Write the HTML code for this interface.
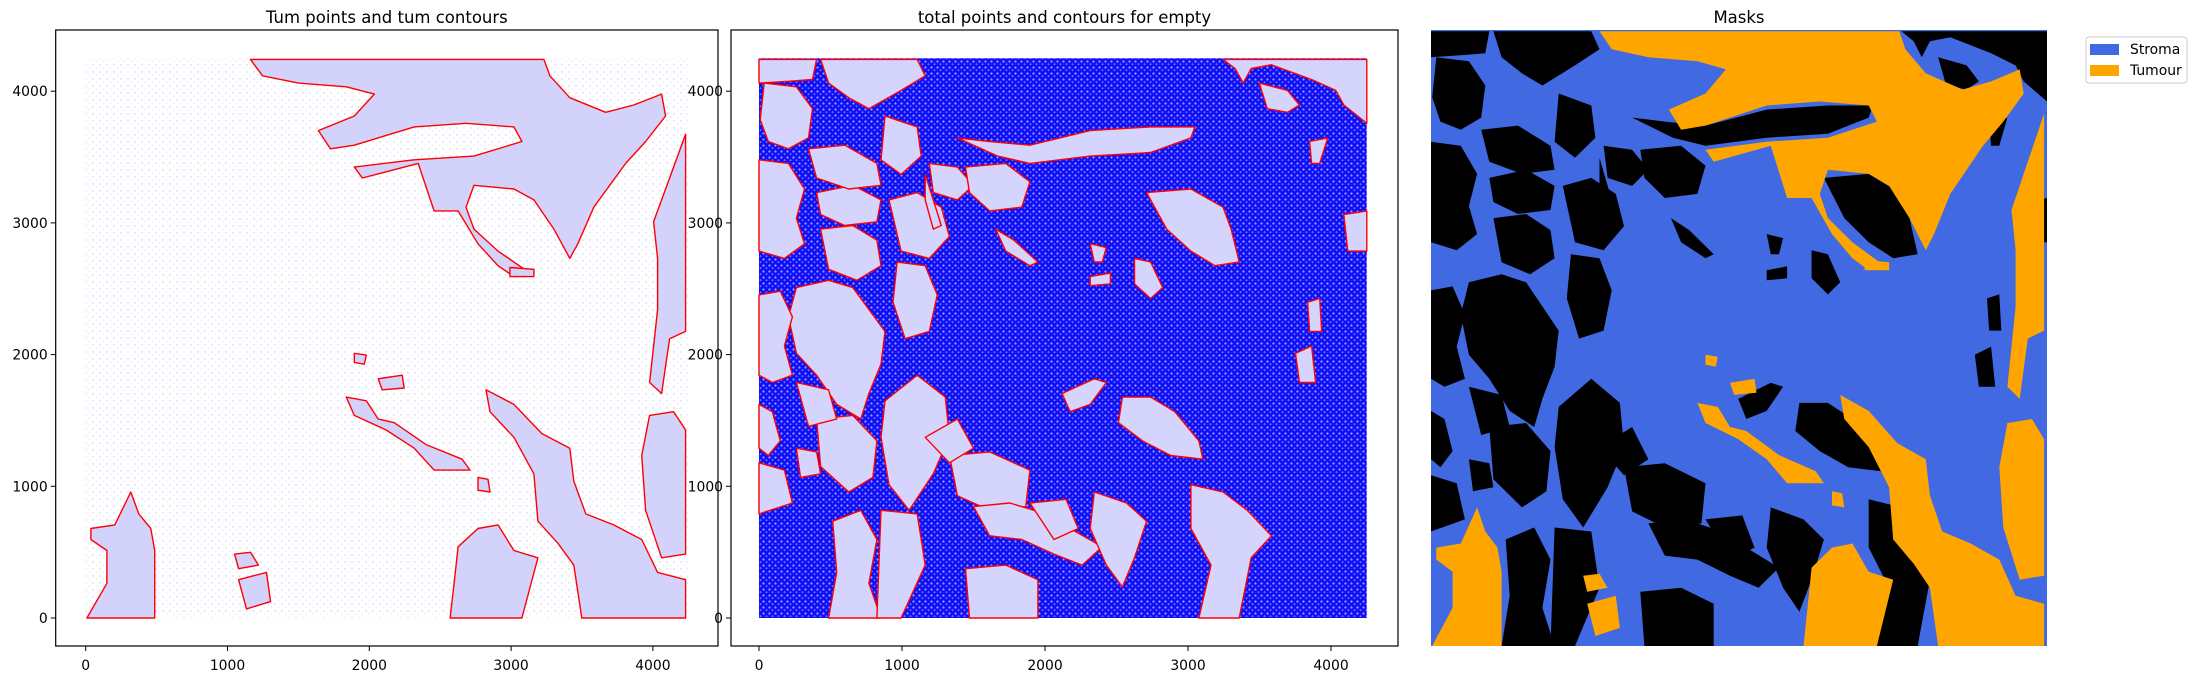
<!DOCTYPE html>
<html><head><meta charset="utf-8">
<style>
html,body{margin:0;padding:0;background:#fff;}
body{width:2196px;height:680px;overflow:hidden;font-family:"DejaVu Sans","Liberation Sans",sans-serif;}
svg text{font-family:"DejaVu Sans","Liberation Sans",sans-serif;}
</style></head>
<body>
<svg id="fig" width="2196" height="680" viewBox="0 0 2196 680" xmlns="http://www.w3.org/2000/svg">
<defs>
<pattern id="speck" width="6" height="6" patternUnits="userSpaceOnUse">
<rect width="6" height="6" fill="#1010f8"/>
<circle cx="1.5" cy="1.5" r="1.1" fill="#ffffff" opacity="0.6"/>
<circle cx="4.5" cy="4.2" r="0.9" fill="#ffffff" opacity="0.45"/>
</pattern>
<pattern id="faint" width="7" height="7" patternUnits="userSpaceOnUse">
<rect width="7" height="7" fill="#ffffff"/>
<circle cx="2" cy="2" r="1" fill="#8888ff" opacity="0.25"/>
<circle cx="5.5" cy="5" r="0.8" fill="#8888ff" opacity="0.2"/>
</pattern>
</defs>
</svg>
<script>
// ---- data (mask grid: cols 27..1537, rows 12..1545) ----
const xTicks = [0, 1000, 2000, 3000, 4000];
const yTicks = [0, 1000, 2000, 3000, 4000];
const legendLabels = ['Stroma', 'Tumour'];
const tumourRegions = [
 [[440,15],[1175,15],[1190,60],[1240,120],[1330,160],[1400,140],[1470,110],[1480,170],[1430,240],[1380,300],[1300,420],[1260,520],[1240,560],[1200,480],[1150,400],[1100,370],[1000,360],[980,420],[1000,480],[1060,540],[1140,600],[1100,610],[1060,580],[1010,520],[960,430],[900,430],[860,300],[720,340],[700,310],[850,290],[1000,280],[1120,240],[1100,200],[980,190],[850,200],[700,250],[640,260],[610,210],[700,170],[750,110],[680,90],[560,80],[470,60]],
 [[1530,220],[1480,370],[1450,460],[1460,560],[1460,700],[1440,900],[1470,930],[1490,780],[1530,760]],
 [[1440,990],[1500,980],[1530,1030],[1530,1370],[1470,1380],[1430,1250],[1420,1100]],
 [[1030,920],[1100,960],[1170,1040],[1240,1080],[1250,1170],[1280,1260],[1350,1290],[1420,1330],[1460,1420],[1530,1440],[1530,1545],[1270,1545],[1250,1400],[1210,1340],[1160,1280],[1150,1150],[1100,1050],[1040,980]],
 [[960,1350],[1010,1300],[1060,1290],[1100,1360],[1160,1380],[1120,1545],[940,1545],[950,1450]],
 [[680,940],[730,950],[760,1000],[800,1010],[880,1070],[970,1110],[990,1140],[900,1140],[850,1080],[780,1030],[700,990]],
 [[40,1300],[100,1290],[140,1200],[160,1260],[190,1300],[200,1360],[200,1545],[30,1545],[80,1450],[80,1360],[40,1330]],
 [[700,820],[730,825],[725,850],[700,845]],
 [[760,890],[820,880],[825,915],[770,920]],
 [[1010,1160],[1035,1165],[1040,1200],[1010,1195]],
 [[1090,585],[1150,590],[1150,610],[1090,610]],
 [[400,1370],[440,1365],[460,1400],[410,1410]],
 [[410,1440],[480,1420],[490,1500],[430,1520]]
];
const emptyRegions = [
 [[40,80],[120,90],[160,150],[150,230],[100,260],[50,240],[30,180]],
 [[180,15],[420,15],[440,60],[380,100],[300,150],[250,120],[200,80]],
 [[340,170],[420,200],[430,280],[380,330],[330,290]],
 [[27,290],[100,300],[140,370],[120,450],[140,520],[90,560],[27,540]],
 [[170,380],[260,360],[330,400],[320,460],[240,470],[180,440]],
 [[180,480],[260,470],[320,510],[330,580],[270,620],[200,590]],
 [[120,640],[200,620],[260,640],[300,700],[340,760],[330,850],[300,930],[280,1000],[220,960],[170,880],[120,820],[100,720]],
 [[27,660],[80,650],[110,720],[90,800],[110,880],[60,900],[27,880]],
 [[350,400],[420,380],[480,420],[500,500],[450,560],[380,540]],
 [[370,570],[440,580],[470,660],[450,760],[390,780],[360,680]],
 [[450,300],[520,310],[560,360],[520,400],[460,380]],
 [[520,230],[620,280],[700,300],[850,280],[1000,270],[1100,230],[1110,200],[1000,200],[850,210],[700,250],[600,240]],
 [[540,310],[640,300],[700,350],[680,420],[600,430],[550,380]],
 [[340,950],[420,880],[490,940],[500,1050],[460,1150],[400,1250],[350,1180],[330,1050]],
 [[170,1000],[260,990],[320,1060],[310,1160],[250,1200],[180,1130]],
 [[210,1280],[280,1250],[320,1330],[300,1450],[330,1545],[200,1545],[220,1420]],
 [[500,1100],[600,1090],[700,1140],[690,1240],[600,1250],[520,1210]],
 [[560,1240],[650,1230],[740,1260],[800,1300],[880,1350],[830,1400],[760,1370],[680,1330],[600,1320]],
 [[540,1410],[640,1400],[720,1440],[720,1545],[550,1545]],
 [[860,1200],[940,1230],[990,1280],[960,1380],[930,1460],[890,1400],[850,1300]],
 [[1100,1180],[1180,1200],[1240,1250],[1300,1320],[1250,1380],[1220,1545],[1120,1545],[1150,1400],[1100,1300]],
 [[930,940],[1000,940],[1060,980],[1120,1060],[1130,1110],[1050,1100],[980,1060],[920,1010]],
 [[780,930],[860,890],[890,900],[850,960],[800,980]],
 [[1180,15],[1537,15],[1537,190],[1480,140],[1460,100],[1400,70],[1300,30],[1250,40],[1230,80],[1210,40]],
 [[1270,80],[1340,100],[1370,140],[1340,160],[1290,150]],
 [[990,380],[1100,370],[1180,420],[1200,480],[1220,570],[1160,580],[1100,540],[1040,480]],
 [[1395,240],[1440,230],[1420,300],[1400,300]],
 [[1360,820],[1400,800],[1410,900],[1370,900]],
 [[1390,680],[1420,670],[1425,760],[1395,760]],
 [[1480,440],[1537,430],[1537,540],[1490,540]],
 [[615,480],[660,510],[720,570],[700,580],[640,540]],
 [[850,520],[890,530],[880,570],[860,570]],
 [[960,560],[1000,570],[1030,640],[1000,670],[960,630]],
 [[27,960],[60,980],[80,1060],[50,1100],[27,1080]],
 [[120,1080],[170,1090],[180,1150],[130,1160]],
 [[440,330],[480,470],[460,480],[440,400]],
 [[850,610],[900,600],[900,630],[850,635]],
 [[27,15],[170,15],[160,70],[100,75],[27,80]],
 [[150,260],[240,250],[320,300],[330,360],[250,370],[170,340]],
 [[330,1250],[420,1260],[440,1400],[380,1545],[320,1545]],
 [[700,1230],[790,1220],[820,1300],[760,1330]],
 [[440,1050],[520,1000],[560,1080],[500,1120]],
 [[120,900],[200,920],[220,1000],[150,1020]],
 [[27,1120],[90,1140],[110,1230],[27,1260]]
];
const COL0=27, COL1=1537, ROW0=12, ROW1=1545, DATAMAX=4250;

// ---- scales ----
function dataX(c){return (c-COL0)/(COL1-COL0)*DATAMAX;}
function dataY(r){return (ROW1-r)/(ROW1-ROW0)*DATAMAX;}
const P1={x0:85.7,y0:618,sx:0.1418,sy:0.1317};
const P2={x0:759,y0:618,sx:0.1430,sy:0.1317};
function px(P,d){return P.x0+d*P.sx;}
function py(P,d){return P.y0-d*P.sy;}
function maskX(c){return 1431+(c-COL0)/(COL1-COL0)*616;}
function maskY(r){return 30+(r-ROW0)/(ROW1-ROW0)*616;}

const NS='http://www.w3.org/2000/svg';
const fig=document.getElementById('fig');
function mk(tag,attrs,parent){const e=document.createElementNS(NS,tag);for(const k in attrs)e.setAttribute(k,attrs[k]);(parent||fig).appendChild(e);return e;}
function polyPts(poly,fx,fy){return poly.map(p=>fx(p[0]).toFixed(1)+','+fy(p[1]).toFixed(1)).join(' ');}

function axesFrame(left,right,P,title,name){
  const g=mk('g',{});
  
  
  const t=mk('text',{x:(left+right)/2,y:23,'text-anchor':'middle','font-size':'16.5',fill:'#000'},g);
  t.textContent=title;
  
  
  const fr=mk('rect',{x:left,y:30,width:right-left,height:616,fill:'none',stroke:'#000','stroke-width':1.2},g);
  
  
  xTicks.forEach(v=>{
    const x=px(P,v);
    mk('line',{x1:x,x2:x,y1:646,y2:651,stroke:'#000','stroke-width':1},g);
    const tx=mk('text',{x:x,y:670,'text-anchor':'middle','font-size':'13.9',fill:'#000'},g);
    tx.textContent=v;
    
    
  });
  yTicks.forEach(v=>{
    const y=py(P,v);
    mk('line',{x1:left-5,x2:left,y1:y,y2:y,stroke:'#000','stroke-width':1},g);
    const ty=mk('text',{x:left-8,y:y+5,'text-anchor':'end','font-size':'13.9',fill:'#000'},g);
    ty.textContent=v;
    
    
  });
}

// ---- panel 1 ----
const bg1=mk('rect',{x:px(P1,0),y:py(P1,DATAMAX),width:DATAMAX*P1.sx,height:DATAMAX*P1.sy,fill:'url(#faint)'});


tumourRegions.forEach(poly=>{
  const e=mk('polygon',{points:polyPts(poly,c=>px(P1,dataX(c)),r=>py(P1,dataY(r))),fill:'#d2d2fb',stroke:'#ff0000','stroke-width':1.4,'stroke-linejoin':'round'});
  
  
});
axesFrame(55.7,718,P1,'Tum points and tum contours','panel-tum');

// ---- panel 2 ----
const bg2=mk('rect',{x:px(P2,0),y:py(P2,DATAMAX),width:DATAMAX*P2.sx,height:DATAMAX*P2.sy,fill:'url(#speck)'});


emptyRegions.forEach(poly=>{
  const e=mk('polygon',{points:polyPts(poly,c=>px(P2,dataX(c)),r=>py(P2,dataY(r))),fill:'#d4d4fc',stroke:'#ff0000','stroke-width':1.4,'stroke-linejoin':'round'});
  
  
});
axesFrame(731,1398,P2,'total points and contours for empty','panel-empty');

// ---- panel 3 (mask) ----
const t3=mk('text',{x:1739,y:23,'text-anchor':'middle','font-size':'16.5',fill:'#000'});
t3.textContent='Masks';


const bg3=mk('rect',{x:1431,y:30,width:616,height:616,fill:'#4169e1'});


emptyRegions.forEach(poly=>{
  const e=mk('polygon',{points:polyPts(poly,maskX,maskY),fill:'#000000'});
  
  
});
tumourRegions.forEach(poly=>{
  const e=mk('polygon',{points:polyPts(poly,maskX,maskY),fill:'#ffa500'});
  
  
});

// ---- legend ----
const lg=mk('g',{});


mk('rect',{x:2086,y:37,width:101,height:46,rx:3,fill:'#fff',stroke:'#cccccc','stroke-width':1},lg);
const legColors=['#4169e1','#ffa500'];
legendLabels.forEach((lab,i)=>{
  const y=44+i*21;
  const sw=mk('rect',{x:2090,y:y,width:29,height:11,fill:legColors[i]},lg);
  
  
  const tx=mk('text',{x:2130,y:y+10,'font-size':'13.9',fill:'#000'},lg);
  tx.textContent=lab;
  
  
});
</script>
</body></html>
